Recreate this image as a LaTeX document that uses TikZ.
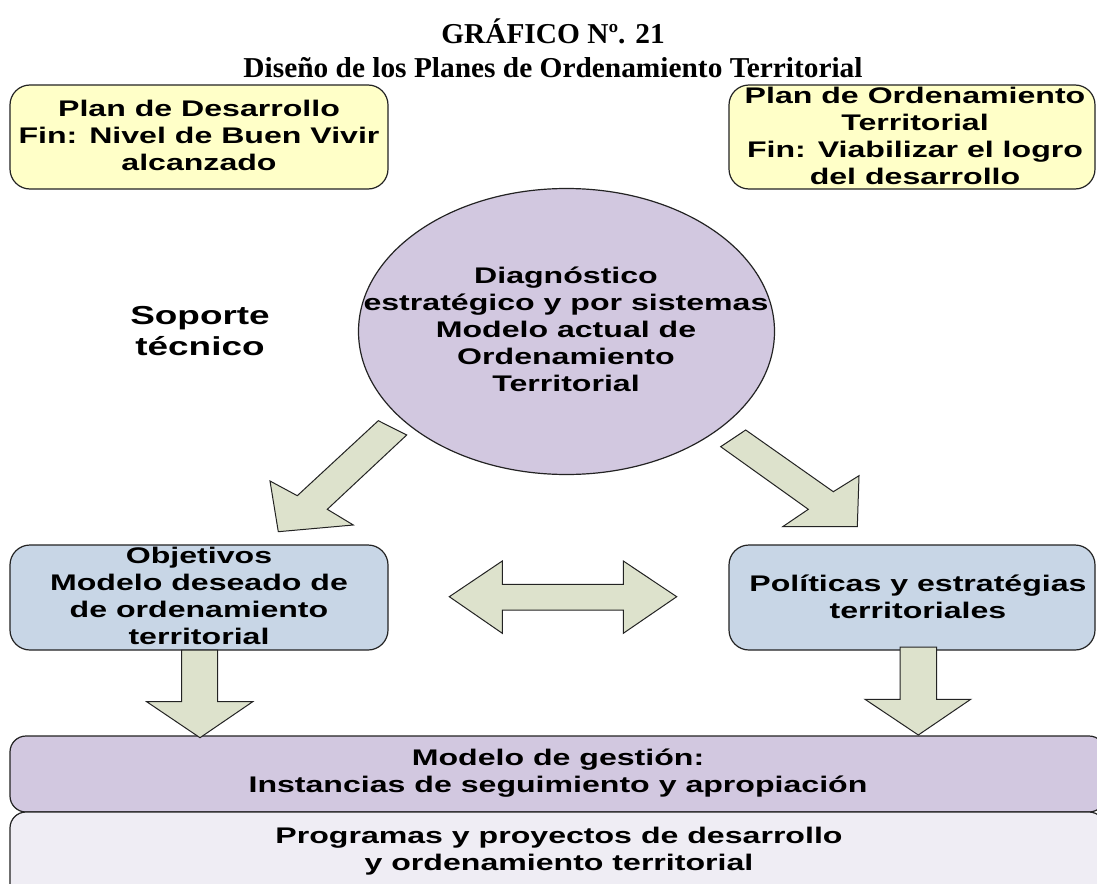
\documentclass[tikz,border=0pt]{standalone}
\usepackage{fontspec}
\usetikzlibrary{shapes.geometric}
\newfontfamily\boxfont[FakeStretch=1.42]{Liberation Sans}
\newfontfamily\titlefont[FakeStretch=1.02]{Liberation Serif}
\definecolor{ylw}{RGB}{255,255,200}
\definecolor{lav}{RGB}{210,200,224}
\definecolor{lavlt}{RGB}{239,237,244}
\definecolor{blu}{RGB}{200,214,230}
\definecolor{arr}{RGB}{221,226,204}
\definecolor{edge}{RGB}{35,35,35}
\tikzset{
  box/.style={draw=edge, line width=0.6pt, rounded corners=10pt, inner sep=0pt},
  btxt/.style={font=\boxfont\bfseries\fontsize{11.3pt}{13.5pt}\selectfont, align=center, inner sep=0pt},
  blockarrow/.style={draw=edge, fill=arr, line width=0.5pt, line join=miter},
  ttl/.style={font=\titlefont\bfseries\fontsize{14.4pt}{17pt}\selectfont, align=center, inner sep=0pt}
}
\begin{document}
\begin{tikzpicture}[x=0.5pt, y=-0.5pt]
\useasboundingbox (0,0) rectangle (1097,883);
\clip (0,0) rectangle (1097,883);
\fill[white] (0,0) rectangle (1097,883);

% title
\node[ttl] (title) at (553,48) {GRÁFICO Nº. 21\\Diseño de los Planes de Ordenamiento Territorial};

% top boxes
\node[box, fill=ylw, minimum width=189pt, minimum height=52pt] (pd) at (199,137) {};
\node[btxt] (pdt) at (199,135) {Plan de Desarrollo\\Fin: Nivel de Buen Vivir\\alcanzado};
\node[box, fill=ylw, minimum width=183pt, minimum height=52pt] (pot) at (912,137) {};
\node[btxt] (pott) at (915,136) {Plan de Ordenamiento\\Territorial\\Fin: Viabilizar el logro\\del desarrollo};

% ellipse
\node[draw=edge, line width=0.6pt, fill=lav, ellipse, minimum width=208pt, minimum height=143pt, inner sep=0pt] (diag) at (566.5,331.5) {};
\node[btxt] (diagt) at (566,329) {Diagnóstico\\estratégico y por sistemas\\Modelo actual de\\Ordenamiento\\Territorial};

% soporte tecnico
\node[font=\boxfont\bfseries\fontsize{13pt}{15.5pt}\selectfont, align=center, inner sep=0pt] (sop) at (200,331) {Soporte\\técnico};

% middle boxes
\node[box, fill=blu, minimum width=189pt, minimum height=52.5pt] (obj) at (199,597.5) {};
\node[btxt] (objt) at (199,596) {Objetivos\\Modelo deseado de\\de ordenamiento\\territorial};
\node[box, fill=blu, minimum width=183pt, minimum height=52.5pt] (pol) at (912,597.5) {};
\node[btxt] (polt) at (918,597) {Políticas y estratégias\\territoriales};

% bottom bars
\node[box, rounded corners=8pt, fill=lav, minimum width=547.5pt, minimum height=38pt] (mg) at (557.5,774) {};
\node[btxt] (mgt) at (558,773) {Modelo de gestión:\\Instancias de seguimiento y apropiación};
\node[box, rounded corners=8pt, fill=lavlt, minimum width=547.5pt, minimum height=45pt] (pp) at (557.5,857) {};
\node[btxt] (ppt) at (559,851) {Programas y proyectos de desarrollo\\y ordenamiento territorial};

% block arrows
\draw[blockarrow] (378.3,420.7) -- (406.7,435) -- (327.3,509.3) -- (353.3,525) -- (278.3,531.7) -- (270,481) -- (297.3,495.7) -- cycle;
\draw[blockarrow] (720.7,446.7) -- (745.7,430) -- (833.3,491.7) -- (859,475.7) -- (857.3,526.7) -- (782.7,526.7) -- (808.3,509.3) -- cycle;
\draw[blockarrow] (449.3,596.7) -- (502.3,561) -- (502.3,584.3) -- (623.3,584.3) -- (623.3,561) -- (676.7,596.7) -- (623.3,633.3) -- (623.3,610) -- (502.3,610) -- (502.3,633.3) -- cycle;
\draw[blockarrow] (181.7,650) -- (217.7,650) -- (217.7,701.7) -- (252.7,701.7) -- (200,737.7) -- (146.7,701.7) -- (181.7,701.7) -- cycle;
\draw[blockarrow] (900,647) -- (936.7,647) -- (936.7,699.3) -- (970.7,699.3) -- (918.3,735) -- (865,699.3) -- (900,699.3) -- cycle;
\end{tikzpicture}
\end{document}
